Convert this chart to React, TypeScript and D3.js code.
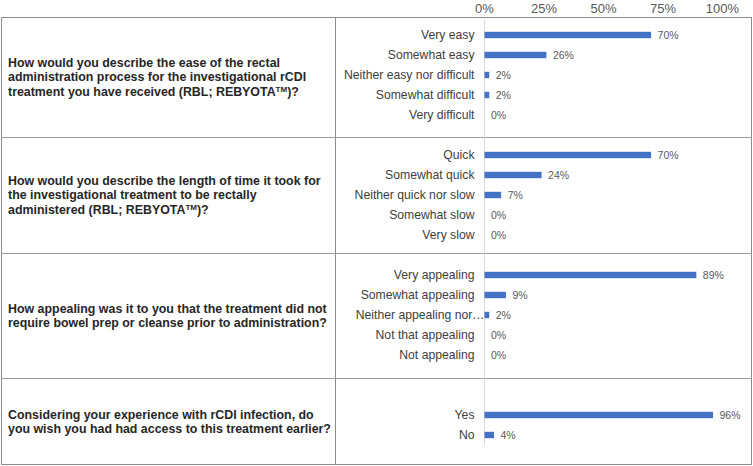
import * as d3 from "d3";

// survey questions, one row each ("^" marks a superscript TM)
const questions = [
  ["How would you describe the ease of the rectal", "administration process for the investigational rCDI", "treatment you have received (RBL; REBYOTA^)?"],
  ["How would you describe the length of time it took for", "the investigational treatment to be rectally", "administered (RBL; REBYOTA^)?"],
  ["How appealing was it to you that the treatment did not", "require bowel prep or cleanse prior to administration?"],
  ["Considering your experience with rCDI infection, do", "you wish you had had access to this treatment earlier?"],
];

const answers1 = ["Very easy", "Somewhat easy", "Neither easy nor difficult", "Somewhat difficult", "Very difficult"];
const values1 = [70, 26, 2, 2, 0];
const answers2 = ["Quick", "Somewhat quick", "Neither quick nor slow", "Somewhat slow", "Very slow"];
const values2 = [70, 24, 7, 0, 0];
const answers3 = ["Very appealing", "Somewhat appealing", "Neither appealing nor\u2026", "Not that appealing", "Not appealing"];
const values3 = [89, 9, 2, 0, 0];
const answers4 = ["Yes", "No"];
const values4 = [96, 4];

const ticks = [0, 25, 50, 75, 100];

const W = 753;
const H = 466;
const FONT = "'Liberation Sans', Arial, Helvetica, sans-serif";
const rowEdges = [17, 137, 253, 378, 465];

type Item = { key: string; label: string; value: number | null };

const groups = [
  [answers1, values1],
  [answers2, values2],
  [answers3, values3],
  [answers4, values4],
] as [string[], number[]][];

// blank slots between groups, same as the original excel chart
const gapsAfter = [1, 1, 2];

const items: Item[] = [];
groups.forEach(([labels, vals], g) => {
  labels.forEach((l, i) => items.push({ key: `g${g}-${i}`, label: l, value: vals[i] }));
  const n = gapsAfter[g] || 0;
  for (let k = 0; k < n; k++) items.push({ key: `gap${g}-${k}`, label: "", value: null });
});

const QuestionLine = ({ text, x, y }: { text: string; x: number; y: number }) => {
  const parts = text.split("^");
  if (parts.length === 1) {
    return (
      <tspan x={x} y={y}>
        {text}
      </tspan>
    );
  }
  return (
    <>
      <tspan x={x} y={y}>
        {parts[0]}
      </tspan>
      <tspan dy={-4} fontSize={8}>
        TM
      </tspan>
      <tspan dy={4}>{parts[1]}</tspan>
    </>
  );
};

export default function App() {
  const x = d3.scaleLinear().domain([0, 100]).range([484.5, 722.5]);
  const y = d3
    .scaleBand()
    .domain(items.map((d) => d.key))
    .range([25, 445])
    .paddingInner(0.68)
    .paddingOuter(0.34);

  const bars = items.filter((d) => d.value !== null);

  return (
    <svg
      width={W}
      height={H}
      style={{ position: "absolute", left: 0, top: 0, background: "#fff" }}
      fontFamily={FONT}
    >
      <rect x={0} y={0} width={W} height={H} fill="#fff" />

      {/* table frame */}
      <rect x={1.5} y={rowEdges[0] + 0.5} width={750} height={rowEdges[4] - rowEdges[0] - 1} fill="none" stroke="#8c8c8c" />
      <line x1={335.5} x2={335.5} y1={rowEdges[0]} y2={rowEdges[4]} stroke="#8c8c8c" />
      {rowEdges.slice(1, 4).map((e) => (
        <line key={e} x1={1} x2={752} y1={e + 0.5} y2={e + 0.5} stroke="#9a9a9a" />
      ))}

      {/* zero gridline */}
      <line x1={x(0)} x2={x(0)} y1={20} y2={445} stroke="#d9d9d9" />

      {/* top axis labels */}
      {ticks.map((t) => (
        <text key={t} x={x(t)} y={13} textAnchor="middle" fontSize={13} fill="#595959">
          {t}%
        </text>
      ))}

      {/* question text */}
      {questions.map((lines, r) => {
        const mid = (rowEdges[r] + rowEdges[r + 1]) / 2;
        const lh = 14.5;
        const first = mid - ((lines.length - 1) * lh) / 2 + 4.3;
        return (
          <text key={r} fontSize={12.4} fontWeight="bold" fill="#262626">
            {lines.map((l, i) => (
              <QuestionLine key={i} text={l} x={8} y={first + i * lh} />
            ))}
          </text>
        );
      })}

      {/* category labels */}
      {bars.map((d) => (
        <text
          key={d.key + "l"}
          x={d.label.endsWith("\u2026") ? x(0) : x(0) - 10}
          y={(y(d.key) as number) + y.bandwidth() / 2 + 4.2}
          textAnchor="end"
          fontSize={12.2}
          fill="#404040"
        >
          {d.label}
        </text>
      ))}

      {/* bars */}
      {bars.map((d) => (
        <rect
          key={d.key}
          x={x(0)}
          y={y(d.key)}
          width={x(d.value as number) - x(0)}
          height={y.bandwidth()}
          fill="#4472c4"
        />
      ))}

      {/* value labels */}
      {bars.map((d) => (
        <text
          key={d.key + "v"}
          x={x(d.value as number) + 6.5}
          y={(y(d.key) as number) + y.bandwidth() / 2 + 3.8}
          fontSize={10.5}
          fill="#595959"
        >
          {d.value}%
        </text>
      ))}
    </svg>
  );
}
